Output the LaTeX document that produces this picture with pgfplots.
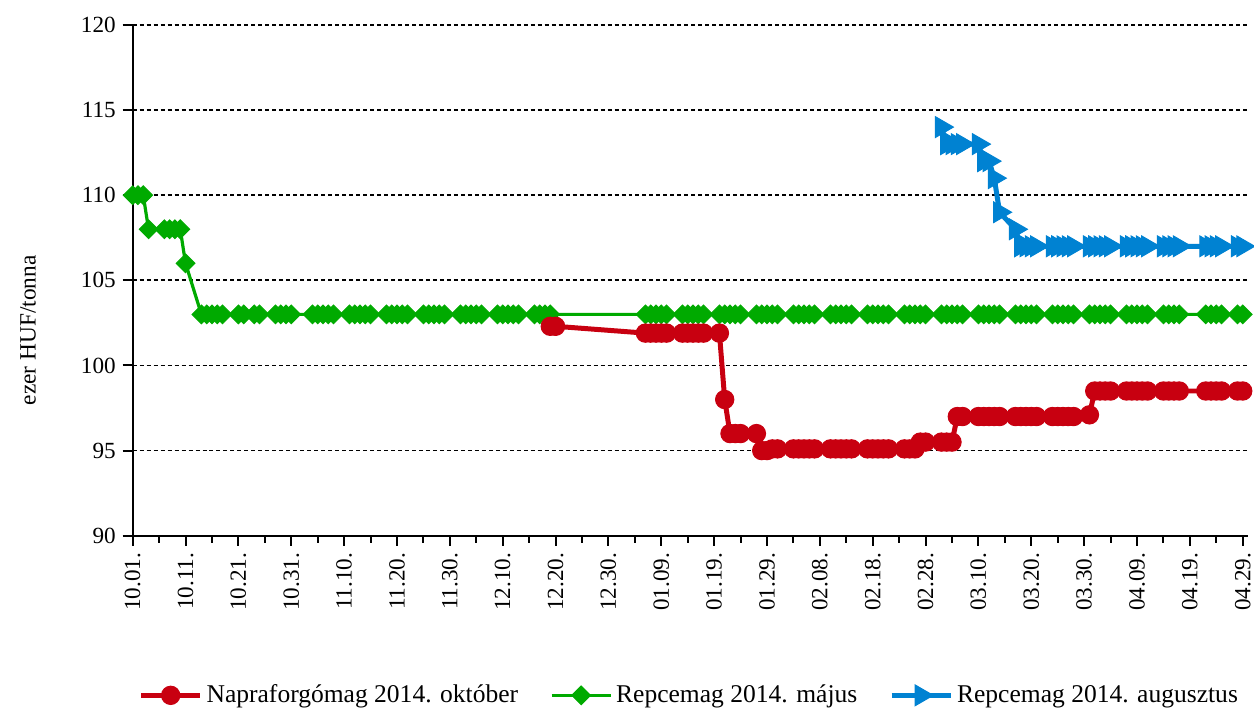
\documentclass[border=0pt]{standalone}
\usepackage{fontspec}
\setmainfont{Liberation Serif}
\usepackage{pgfplots}
\pgfplotsset{compat=1.18}
\definecolor{cred}{RGB}{200,0,16}
\definecolor{cgreen}{RGB}{0,170,0}
\definecolor{cblue}{RGB}{0,130,210}
\pgfplotsset{
  napra/.style={color=cred, line width=2.5pt, mark=*, mark size=4.6pt, mark options={solid, line width=0.5pt}},
  repmaj/.style={color=cgreen, line width=1.6pt, mark=square*, mark size=3.3pt, mark options={solid, rotate=45, line width=0.5pt}},
  repaug/.style={color=cblue, line width=2.5pt, mark=triangle*, mark size=6pt, mark options={solid, rotate=-90, line width=0.5pt}},
}
\begin{document}
\begin{tikzpicture}
\begin{axis}[
  at={(0,0)}, anchor=south west,
  scale only axis, width=559pt, height=256pt,
  xmin=0, xmax=211, ymin=90, ymax=120,
  axis lines*=left,
  axis line style={line width=1pt},
  ytick={90,95,...,120},
  xtick={0,10,...,210},
  xticklabels={10.01.,10.11.,10.21.,10.31.,11.10.,11.20.,11.30.,12.10.,12.20.,12.30.,01.09.,01.19.,01.29.,02.08.,02.18.,02.28.,03.10.,03.20.,03.30.,04.09.,04.19.,04.29.},
  minor x tick num=1,
  tick align=outside,
  major tick length=5pt, minor tick length=3.5pt,
  tick style={black, line width=1pt},
  ymajorgrids,
  grid style={black, dash pattern=on 2pt off 1.5pt, line width=0.9pt},
  xticklabel style={rotate=90, anchor=east},
  ticklabel style={font=\fontsize{11.6}{13}\selectfont},
  /pgf/number format/assume math mode=true,
  ylabel={ezer HUF/tonna},
  ylabel style={at={(axis description cs:-0.0939,0.402)}, anchor=center, font=\fontsize{11.7}{14}\selectfont},
  clip=false,
  legend columns=3,
  legend style={at={(0.5,-0.3125)}, anchor=center, draw=none, fill=none,
    font=\fontsize{12.8}{15}\selectfont,
    /tikz/every even column/.append style={column sep=14pt}},
  legend image code/.code={\draw[mark repeat=2,mark phase=2] plot coordinates {(0pt,0pt) (14.75pt,0pt) (29.5pt,0pt)};},
]
\addlegendimage{napra}
\addlegendentry{Napraforgómag 2014. október}
\addlegendimage{repmaj}
\addlegendentry{Repcemag 2014. május}
\addlegendimage{repaug}
\addlegendentry{Repcemag 2014. augusztus}

% Repcemag 2014. május
\addplot[repmaj, forget plot] coordinates {
  (0,110) (1,110) (2,110) (3,108) (6,108) (7,108) (8,108) (9,108) (10,106)
  (13,103) (14,103) (15,103) (16,103) (17,103)
  (20,103) (21,103) (23,103) (24,103)
  (27,103) (28,103) (29,103) (30,103)
  (34,103) (35,103) (36,103) (37,103) (38,103)
  (41,103) (42,103) (43,103) (44,103) (45,103)
  (48,103) (49,103) (50,103) (51,103) (52,103)
  (55,103) (56,103) (57,103) (58,103) (59,103)
  (62,103) (63,103) (64,103) (65,103) (66,103)
  (69,103) (70,103) (71,103) (72,103) (73,103)
  (76,103) (77,103) (78,103) (79,103)
  (97,103) (98,103) (99,103) (100,103) (101,103)
  (104,103) (105,103) (106,103) (107,103) (108,103)
  (111,103) (112,103) (113,103) (114,103) (115,103)
  (118,103) (119,103) (120,103) (121,103) (122,103)
  (125,103) (126,103) (127,103) (128,103) (129,103)
  (132,103) (133,103) (134,103) (135,103) (136,103)
  (139,103) (140,103) (141,103) (142,103) (143,103)
  (146,103) (147,103) (148,103) (149,103) (150,103)
  (153,103) (154,103) (155,103) (156,103) (157,103)
  (160,103) (161,103) (162,103) (163,103) (164,103)
  (167,103) (168,103) (169,103) (170,103) (171,103)
  (174,103) (175,103) (176,103) (177,103) (178,103)
  (181,103) (182,103) (183,103) (184,103) (185,103)
  (188,103) (189,103) (190,103) (191,103) (192,103)
  (195,103) (196,103) (197,103) (198,103)
  (203,103) (204,103) (205,103) (206,103)
  (209,103) (210,103)
};

% Napraforgómag 2014. október
\addplot[napra, forget plot] coordinates {
  (79,102.3) (80,102.3)
  (97,101.9) (98,101.9) (99,101.9) (100,101.9) (101,101.9)
  (104,101.9) (105,101.9) (106,101.9) (107,101.9) (108,101.9)
  (111,101.9) (112,98) (113,96) (114,96) (115,96)
  (118,96) (119,95) (120,95) (121,95.1) (122,95.1)
  (125,95.1) (126,95.1) (127,95.1) (128,95.1) (129,95.1)
  (132,95.1) (133,95.1) (134,95.1) (135,95.1) (136,95.1)
  (139,95.1) (140,95.1) (141,95.1) (142,95.1) (143,95.1)
  (146,95.1) (147,95.1) (148,95.1) (149,95.5) (150,95.5)
  (153,95.5) (154,95.5) (155,95.5) (156,97) (157,97)
  (160,97) (161,97) (162,97) (163,97) (164,97)
  (167,97) (168,97) (169,97) (170,97) (171,97)
  (174,97) (175,97) (176,97) (177,97) (178,97)
  (181,97.1) (182,98.5) (183,98.5) (184,98.5) (185,98.5)
  (188,98.5) (189,98.5) (190,98.5) (191,98.5) (192,98.5)
  (195,98.5) (196,98.5) (197,98.5) (198,98.5)
  (203,98.5) (204,98.5) (205,98.5) (206,98.5)
  (209,98.5) (210,98.5)
};

% Repcemag 2014. augusztus
\addplot[repaug, forget plot] coordinates {
  (153,114) (154,113) (155,113) (156,113) (157,113)
  (160,113) (161,112) (162,112) (163,111) (164,109)
  (167,108) (168,107) (169,107) (170,107) (171,107)
  (174,107) (175,107) (176,107) (177,107) (178,107)
  (181,107) (182,107) (183,107) (184,107) (185,107)
  (188,107) (189,107) (190,107) (191,107) (192,107)
  (195,107) (196,107) (197,107) (198,107)
  (203,107) (204,107) (205,107) (206,107)
  (209,107) (210,107)
};
\end{axis}
\pgfresetboundingbox
\path (-66.5pt,-88pt) rectangle (562pt,268.5pt);
\end{tikzpicture}
\end{document}
